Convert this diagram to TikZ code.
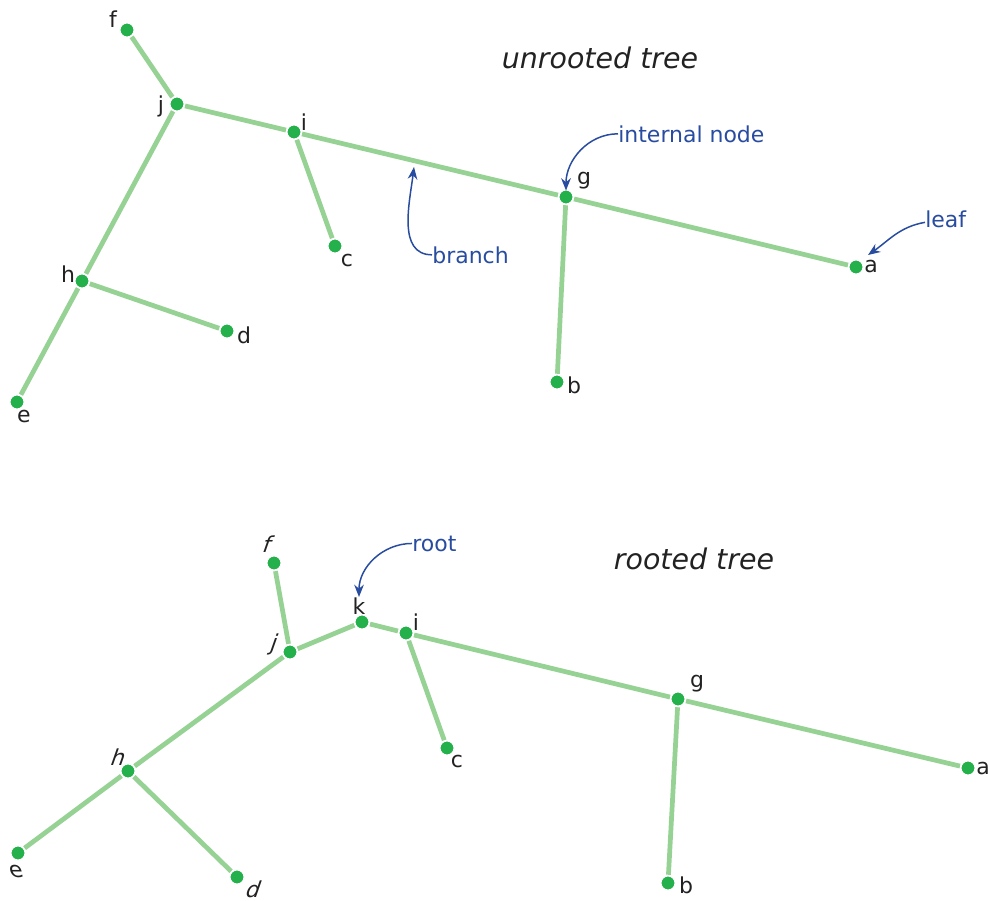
\documentclass[tikz,border=0pt]{standalone}
\usepackage{fontspec}
\setmainfont{DejaVu Sans}
\usetikzlibrary{arrows.meta}

\definecolor{dotgreen}{RGB}{36,176,74}
\definecolor{edgegreen}{RGB}{150,210,148}
\definecolor{noteblue}{RGB}{40,76,160}
\definecolor{txt}{RGB}{34,34,34}

\tikzset{
  vertex/.style={circle,fill=dotgreen,draw=white,line width=1pt,inner sep=0pt,minimum size=8.4pt,outer sep=0.5pt},
  branchline/.style={edgegreen,line width=2.7pt},
  lbl/.style={anchor=base,text=txt,font=\fontsize{12.5}{14}\selectfont,inner sep=0pt},
  slbl/.style={lbl,xslant=0.35},
  note/.style={anchor=base west,text=noteblue,font=\fontsize{12.5}{14}\selectfont,inner sep=0pt},
  pointer/.style={noteblue,line width=0.85pt,-{Stealth[length=7pt,width=5.5pt]}},
  title/.style={anchor=base,text=txt,font=\fontsize{16.2}{19}\selectfont\itshape,inner sep=0pt}
}

\begin{document}
\begin{tikzpicture}[x=0.02cm,y=-0.02cm]
    \useasboundingbox (0,0) rectangle (990,900);

    % unrooted tree
    \node[title] (t1) at (600,68) {unrooted tree};
    \node[vertex] (uf) at (127,30) {};
    \node[vertex] (uj) at (177,104) {};
    \node[vertex] (ui) at (294,132) {};
    \node[vertex] (ug) at (566,197) {};
    \node[vertex] (ua) at (856,267) {};
    \node[vertex] (ub) at (557,382) {};
    \node[vertex] (uc) at (335,246) {};
    \node[vertex] (uh) at (82,281) {};
    \node[vertex] (ud) at (227,331) {};
    \node[vertex] (ue) at (17,402) {};
    \draw[branchline] (uf) -- (uj);
    \draw[branchline] (uj) -- (ui);
    \draw[branchline] (ui) -- (ug);
    \draw[branchline] (ug) -- (ua);
    \draw[branchline] (ug) -- (ub);
    \draw[branchline] (ui) -- (uc);
    \draw[branchline] (uj) -- (uh);
    \draw[branchline] (uh) -- (ud);
    \draw[branchline] (uh) -- (ue);
    \node[lbl] (lf) at (113,27) {f};
    \node[lbl] (lj) at (161,112) {j};
    \node[lbl] (li) at (304,130) {i};
    \node[lbl] (lg) at (584,184) {g};
    \node[lbl] (la) at (871,272) {a};
    \node[lbl] (lb) at (574,393) {b};
    \node[lbl] (lc) at (347,266) {c};
    \node[lbl] (lh) at (68,282) {h};
    \node[lbl] (ld) at (244,343) {d};
    \node[lbl] (le) at (24,422) {e};

    \node[note] (inode) at (618,142) {internal node};
    \node[note] (brnote) at (432,263) {branch};
    \node[note] (leafnote) at (925,227) {leaf};
    \coordinate (brpt) at (414,167);
    \coordinate (leaftip) at (868,255);
    \draw[pointer] (inode.west) to[out=180,in=90] ([yshift=-1pt]ug.north);
    \draw[pointer] (brnote.west) to[out=180,in=-97] (brpt);
    \draw[pointer] ([yshift=-2pt]leafnote.west) to[out=190,in=35] (leaftip);

    % rooted tree
    \node[title] (t2) at (694,569) {rooted tree};
    \node[vertex] (rf) at (274,563) {};
    \node[vertex] (rj) at (290,652) {};
    \node[vertex] (rk) at (362,622) {};
    \node[vertex] (ri) at (406,633) {};
    \node[vertex] (rg) at (678,699) {};
    \node[vertex] (ra) at (968,768) {};
    \node[vertex] (rb) at (668,883) {};
    \node[vertex] (rc) at (447,748) {};
    \node[vertex] (rh) at (128,771) {};
    \node[vertex] (re) at (18,853) {};
    \node[vertex] (rd) at (237,877) {};
    \draw[branchline] (rf) -- (rj);
    \draw[branchline] (rj) -- (rk);
    \draw[branchline] (rk) -- (ri);
    \draw[branchline] (ri) -- (rg);
    \draw[branchline] (rg) -- (ra);
    \draw[branchline] (rg) -- (rb);
    \draw[branchline] (ri) -- (rc);
    \draw[branchline] (rj) -- (rh);
    \draw[branchline] (rh) -- (re);
    \draw[branchline] (rh) -- (rd);
    \node[slbl] (mf) at (265,552) {f};
    \node[slbl] (mj) at (272,650) {j};
    \node[lbl] (mk) at (359,614) {k};
    \node[lbl] (mi) at (416,630) {i};
    \node[lbl] (mg) at (697,687) {g};
    \node[lbl] (ma) at (983,774) {a};
    \node[lbl] (mb) at (686,893) {b};
    \node[lbl] (mc) at (457,767) {c};
    \node[slbl] (mh) at (116,765) {h};
    \node[lbl,xslant=-0.3] (me) at (18,877) {e};
    \node[slbl] (md) at (251,897) {d};

    \node[note] (rootnote) at (412,551) {root};
    \draw[pointer] (rootnote.west) to[out=180,in=90] (mk.north);
\end{tikzpicture}
\end{document}
